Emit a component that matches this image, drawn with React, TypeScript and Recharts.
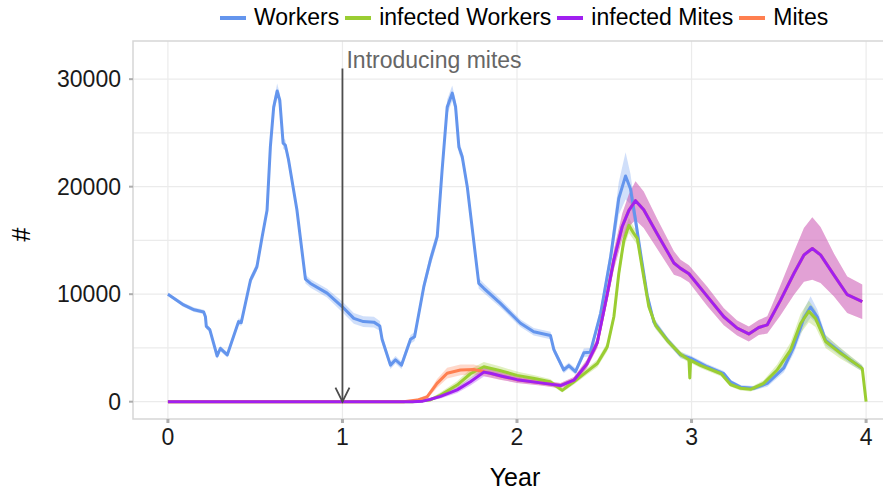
import { ComposedChart, Line, Area, XAxis, YAxis, CartesianGrid, ReferenceLine, ReferenceArea } from "recharts";

// values (year, mean, half-width of the ribbon)
const workerYears = [0, 0.09, 0.15, 0.205, 0.215, 0.22, 0.24, 0.282, 0.3, 0.34, 0.405, 0.42, 0.473, 0.51, 0.54, 0.568, 0.587, 0.606, 0.626, 0.641, 0.66, 0.673, 0.691, 0.739, 0.788, 0.817, 0.912, 0.998, 1.065, 1.12, 1.18, 1.214, 1.227, 1.275, 1.304, 1.338, 1.39, 1.413, 1.466, 1.504, 1.543, 1.571, 1.6, 1.629, 1.648, 1.667, 1.686, 1.715, 1.781, 1.81, 1.905, 2.02, 2.096, 2.192, 2.211, 2.268, 2.297, 2.335, 2.383, 2.42, 2.479, 2.536, 2.583, 2.622, 2.65, 2.679, 2.708, 2.746, 2.784, 2.861, 2.937, 2.994, 3.09, 3.185, 3.223, 3.281, 3.357, 3.434, 3.529, 3.586, 3.644, 3.682, 3.72, 3.768, 3.815, 3.911, 3.978];
const workerValues = [10000, 9000, 8550, 8350, 7900, 7000, 6700, 4250, 4950, 4350, 7450, 7350, 11300, 12550, 15350, 17800, 23700, 27400, 28900, 28050, 24050, 23850, 22500, 17850, 11400, 11000, 10100, 8850, 7750, 7450, 7400, 7050, 5800, 3400, 3900, 3400, 5800, 6050, 10700, 13200, 15350, 21550, 27400, 28700, 27450, 23700, 22800, 20000, 11000, 10550, 9150, 7300, 6500, 6150, 4850, 2950, 3350, 2800, 4550, 4600, 8200, 13400, 18900, 21000, 19800, 16900, 13800, 9900, 7400, 5750, 4350, 4050, 3250, 2600, 1850, 1350, 1250, 1700, 3150, 5100, 7800, 8800, 7900, 5700, 5100, 3850, 3100];
const workerSpread = [150, 200, 200, 200, 250, 250, 250, 250, 250, 250, 300, 300, 400, 400, 400, 400, 500, 600, 700, 600, 500, 500, 500, 400, 400, 400, 400, 500, 500, 500, 500, 450, 400, 350, 350, 350, 400, 400, 500, 600, 600, 600, 700, 700, 600, 600, 500, 500, 500, 450, 400, 350, 350, 350, 350, 300, 300, 300, 400, 400, 600, 900, 1500, 2200, 1400, 900, 600, 500, 400, 300, 300, 250, 250, 250, 200, 200, 200, 300, 400, 600, 800, 1000, 700, 500, 400, 350, 300];

const infWorkerYears = [0, 1.4, 1.5, 1.56, 1.657, 1.733, 1.81, 1.9, 2.0, 2.1, 2.19, 2.259, 2.326, 2.4, 2.46, 2.517, 2.555, 2.583, 2.612, 2.641, 2.669, 2.689, 2.726, 2.755, 2.794, 2.861, 2.937, 2.985, 2.99, 2.995, 3.054, 3.17, 3.223, 3.281, 3.338, 3.413, 3.49, 3.567, 3.624, 3.672, 3.71, 3.768, 3.854, 3.978, 4.0];
const infWorkerValues = [0, 0, 150, 600, 1550, 2600, 3250, 2900, 2450, 2150, 1850, 1050, 1850, 2800, 3550, 5100, 7900, 11900, 15000, 16400, 15650, 15200, 11600, 8850, 7100, 5700, 4400, 3900, 2200, 3850, 3350, 2600, 1600, 1250, 1150, 1700, 2950, 4800, 7250, 8400, 7750, 5600, 4500, 3100, 0];
const infWorkerSpread = [0, 0, 100, 250, 350, 450, 450, 400, 350, 300, 250, 200, 250, 300, 350, 400, 500, 600, 700, 700, 600, 600, 500, 400, 350, 300, 300, 250, 250, 250, 250, 250, 200, 200, 200, 300, 500, 700, 900, 1000, 800, 600, 500, 300, 0];

const infMiteYears = [0, 1.4, 1.46, 1.5, 1.562, 1.657, 1.733, 1.81, 1.847, 1.92, 2.0, 2.135, 2.249, 2.326, 2.4, 2.46, 2.517, 2.555, 2.603, 2.641, 2.679, 2.726, 2.802, 2.899, 2.937, 2.985, 3.09, 3.185, 3.261, 3.328, 3.385, 3.434, 3.51, 3.587, 3.644, 3.692, 3.739, 3.815, 3.892, 3.978];
const infMiteValues = [0, 0, 50, 200, 500, 1100, 1850, 2750, 2650, 2350, 2050, 1750, 1500, 2000, 3500, 5500, 10000, 13200, 16300, 17800, 18700, 17850, 15650, 12900, 12400, 11900, 9800, 7900, 6850, 6300, 6900, 7150, 9450, 11950, 13650, 14250, 13650, 11800, 9950, 9300];
const infMiteSpread = [0, 0, 50, 100, 200, 300, 350, 400, 400, 350, 300, 250, 250, 300, 400, 500, 700, 900, 1200, 1500, 1800, 1700, 1400, 1100, 800, 800, 900, 800, 700, 700, 700, 800, 1400, 2000, 2500, 2900, 2600, 2000, 1700, 1600];

const miteYears = [0, 1.35, 1.428, 1.485, 1.542, 1.6, 1.676, 1.752, 1.81, 1.9, 2.0, 2.135, 2.249, 2.326, 2.4, 2.46, 2.517, 2.555, 2.603, 2.641, 2.679, 2.726, 2.802, 2.899, 2.937, 2.985, 3.09, 3.185, 3.261, 3.328, 3.385, 3.434, 3.51, 3.587, 3.644, 3.692, 3.739, 3.815, 3.892, 3.978];
const miteValues = [0, 0, 150, 450, 1700, 2650, 2950, 3000, 2800, 2400, 2050, 1750, 1500, 2000, 3500, 5500, 10000, 13200, 16300, 17800, 18700, 17850, 15650, 12900, 12400, 11900, 9800, 7900, 6850, 6300, 6900, 7150, 9450, 11950, 13650, 14250, 13650, 11800, 9950, 9300];
const miteSpread = [0, 0, 100, 200, 400, 500, 500, 450, 400, 350, 300, 250, 250, 300, 400, 500, 700, 900, 1200, 1500, 1800, 1700, 1400, 1100, 800, 800, 900, 800, 700, 700, 700, 800, 1400, 2000, 2500, 2900, 2600, 2000, 1700, 1600];

const yearTicks = [0, 1, 2, 3, 4];
const countTicks = [0, 10000, 20000, 30000];
const countGrid = [0, 5000, 10000, 15000, 20000, 25000, 30000];

const xDomain: [number, number] = [-0.2, 4.2];
const yDomain: [number, number] = [-1610, 33550];

const build = (years: number[], values: number[], spread: number[]) =>
  years.map((year, i) => ({
    year,
    value: values[i],
    band: [values[i] - spread[i], values[i] + spread[i]],
  }));

const series = [
  { name: "Workers", color: "#6495ED", data: build(workerYears, workerValues, workerSpread) },
  { name: "infected Workers", color: "#9ACD32", data: build(infWorkerYears, infWorkerValues, infWorkerSpread) },
  { name: "Mites", color: "#FF7F50", data: build(miteYears, miteValues, miteSpread) },
  { name: "infected Mites", color: "#A020F0", data: build(infMiteYears, infMiteValues, infMiteSpread) },
];

const legendOrder = ["Workers", "infected Workers", "infected Mites", "Mites"];

const FONT = "'Liberation Sans', Arial, Helvetica, sans-serif";

const ArrowShape = (props: any) => {
  const { x1, y1, x2, y2 } = props;
  if (x1 == null) return null;
  return (
    <g>
      <line x1={x1} y1={y1} x2={x2} y2={y2} stroke="#4d4d4d" strokeWidth={1.8} />
      <polyline
        points={`${x2 - 7},${y2 - 14} ${x2},${y2} ${x2 + 7},${y2 - 14}`}
        fill="none"
        stroke="#4d4d4d"
        strokeWidth={1.8}
      />
      <text x={x1 + 4} y={y1} fill="#666666" fontSize={23} fontFamily={FONT}>
        Introducing mites
      </text>
    </g>
  );
};

export default function App() {
  return (
    <div style={{ position: "absolute", left: 0, top: 0, width: 883, height: 492, overflow: "hidden", background: "#fff", fontFamily: FONT }}>
      <ComposedChart width={902} height={492} margin={{ top: 41, right: 1, bottom: 0, left: 0 }}>
        <CartesianGrid
          stroke="#ebebeb"
          strokeWidth={1.2}
          horizontalValues={countGrid}
          verticalValues={yearTicks}
        />
        <ReferenceArea
          x1={xDomain[0]}
          x2={xDomain[1]}
          y1={yDomain[0]}
          y2={yDomain[1]}
          fill="none"
          stroke="#d6d6d6"
          strokeWidth={1.5}
          ifOverflow="visible"
        />
        <XAxis
          dataKey="year"
          type="number"
          domain={xDomain}
          ticks={yearTicks}
          allowDataOverflow
          height={73}
          axisLine={false}
          tickLine={{ stroke: "#adadad", strokeWidth: 3 }}
          tickSize={4}
          tickMargin={6}
          tick={{ fill: "#1a1a1a", fontSize: 23, fontFamily: FONT }}
        />
        <YAxis
          type="number"
          domain={yDomain}
          ticks={countTicks}
          allowDataOverflow
          width={133}
          axisLine={false}
          tickLine={{ stroke: "#adadad", strokeWidth: 2 }}
          tickSize={4}
          tickMargin={8}
          tick={{ fill: "#1a1a1a", fontSize: 23, fontFamily: FONT }}
        />
        {series.map((s) => (
          <Area
            key={`band-${s.name}`}
            data={s.data}
            dataKey="band"
            type="linear"
            stroke="none"
            fill={s.color}
            fillOpacity={0.3}
            isAnimationActive={false}
            activeDot={false}
          />
        ))}
        {series.map((s) => (
          <Line
            key={`line-${s.name}`}
            data={s.data}
            dataKey="value"
            type="linear"
            stroke={s.color}
            strokeWidth={3}
            dot={false}
            activeDot={false}
            strokeLinejoin="round"
            isAnimationActive={false}
          />
        ))}
        <ReferenceLine
          segment={[{ x: 1, y: 31000 }, { x: 1, y: 0 }]}
          shape={ArrowShape}
          ifOverflow="visible"
        />
      </ComposedChart>

      <div style={{ position: "absolute", left: 8, top: 220, width: 28, height: 28, display: "flex", alignItems: "center", justifyContent: "center" }}>
        <span style={{ transform: "rotate(-90deg)", fontSize: 25, color: "#000" }}>#</span>
      </div>
      <div style={{ position: "absolute", left: 415, width: 200, top: 463, textAlign: "center", fontSize: 25, color: "#000" }}>
        Year
      </div>

      <div style={{ position: "absolute", left: 220, top: 4, display: "flex", alignItems: "center", fontSize: 23, color: "#000", whiteSpace: "nowrap" }}>
        {legendOrder.map((name) => {
          const s = series.find((d) => d.name === name)!;
          return (
            <div key={name} style={{ display: "flex", alignItems: "center", marginRight: 6 }}>
              <div style={{ width: 26, height: 4, background: s.color, marginRight: 8 }} />
              <span>{name}</span>
            </div>
          );
        })}
      </div>
    </div>
  );
}
